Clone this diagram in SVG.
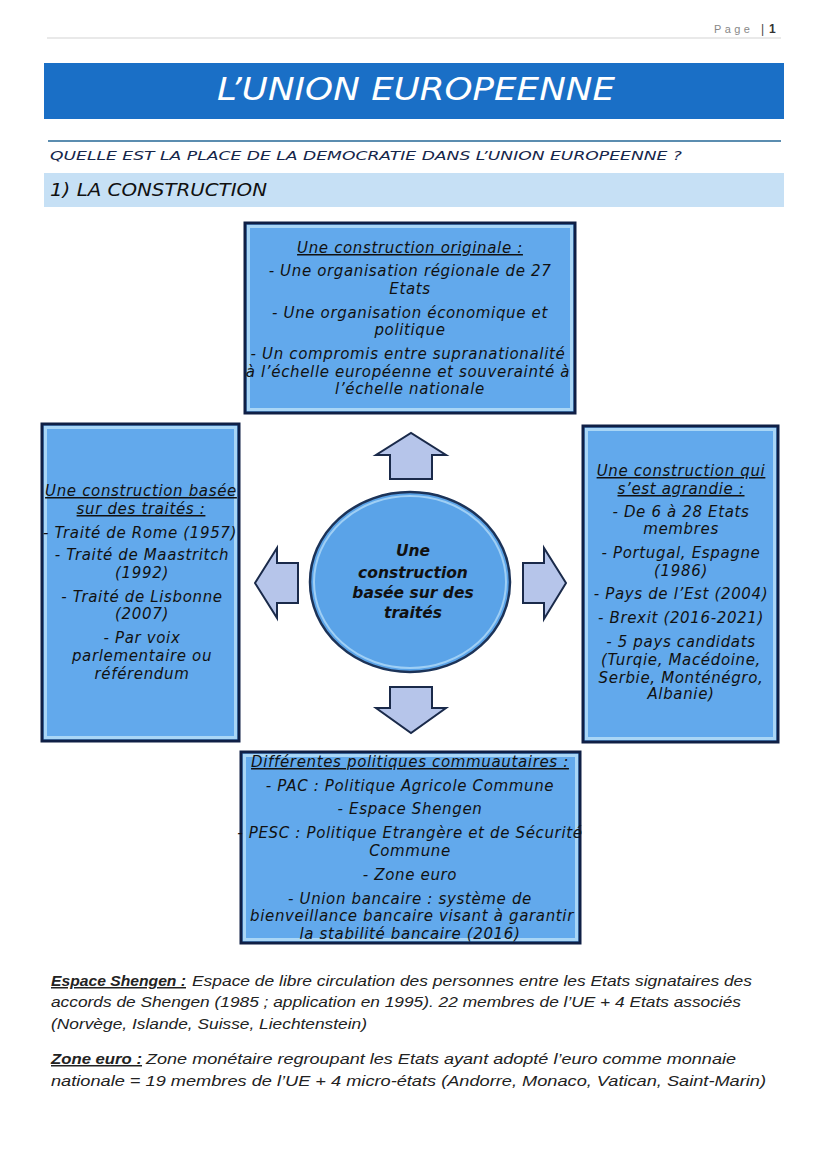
<svg xmlns="http://www.w3.org/2000/svg" width="828" height="1171" viewBox="0 0 828 1171">
<defs>
<style>
.bx{font-family:"DejaVu Sans",sans-serif;font-style:oblique;font-size:15px;letter-spacing:0.65px;fill:#111;text-anchor:middle}
.u{text-decoration:underline}
.ctr{font-family:"DejaVu Sans",sans-serif;font-style:oblique;font-weight:bold;font-size:15.5px;fill:#111;text-anchor:middle}
.par{font-family:"Liberation Sans",sans-serif;font-style:italic;font-size:15px;fill:#222}
.box{fill:#62a9ec;stroke:#0f1f45;stroke-width:3}
.hl{fill:none;stroke:#a9d6f6;stroke-width:3}
.arr{fill:#b6c5ea;stroke:#1a2a4a;stroke-width:2;stroke-linejoin:miter}
</style>
</defs>
<rect width="828" height="1171" fill="#fff"/>
<g id="header">
<text x="714" y="33" font-family="Liberation Sans,sans-serif" font-size="11" fill="#888" letter-spacing="3.4">Page</text>
<text x="761" y="33" font-family="Liberation Sans,sans-serif" font-size="12" fill="#444">|</text>
<text x="769" y="33" font-family="Liberation Sans,sans-serif" font-size="12" font-weight="bold" fill="#333">1</text>
<line x1="47" y1="38" x2="781" y2="38" stroke="#e2e2e2" stroke-width="1.5"/>
</g>
<g id="title">
<rect x="44" y="63" width="740" height="56" fill="#1a6fc6"/>
<text x="416" y="100" font-family="DejaVu Sans,sans-serif" font-style="oblique" font-size="32" fill="#fff" text-anchor="middle" textLength="398" lengthAdjust="spacingAndGlyphs">L’UNION EUROPEENNE</text>
</g>
<g id="question">
<line x1="48" y1="141" x2="781" y2="141" stroke="#5b8db0" stroke-width="2"/>
<text x="50" y="160" font-family="DejaVu Sans,sans-serif" font-style="oblique" font-size="13" fill="#16264a" textLength="632" lengthAdjust="spacingAndGlyphs">QUELLE EST LA PLACE DE LA DEMOCRATIE DANS L’UNION EUROPEENNE  ?</text>
</g>
<g id="section">
<rect x="44" y="173" width="740" height="34" fill="#c6e0f5"/>
<text x="50" y="196" font-family="DejaVu Sans,sans-serif" font-style="oblique" font-size="17" fill="#111" textLength="217" lengthAdjust="spacingAndGlyphs">1) LA CONSTRUCTION</text>
</g>
<g id="connectors">
<path class="arr" d="M390,479 L390,455 L376,455 L411,433 L446,455 L432,455 L432,479 Z"/>
<path class="arr" d="M390,687 L390,708 L376,708 L411,733 L446,708 L432,708 L432,687 Z"/>
<path class="arr" d="M298,563 L277,563 L277,548 L255,583 L277,618 L277,603 L298,603 Z"/>
<path class="arr" d="M523,563 L544,563 L544,548 L566,583 L544,619 L544,603 L523,603 Z"/>
</g>
<g id="node-top">
<rect class="box" x="245" y="223" width="330" height="190"/>
<rect class="hl" x="248.5" y="226.5" width="323" height="183"/>
<text class="bx u" x="410" y="253">Une construction originale :</text>
<text class="bx" x="410" y="276">- Une organisation régionale de 27</text>
<text class="bx" x="410" y="294">Etats</text>
<text class="bx" x="410" y="318">- Une organisation économique et</text>
<text class="bx" x="410" y="335">politique</text>
<text class="bx" x="408" y="359">- Un compromis entre supranationalité</text>
<text class="bx" x="408" y="377">à l’échelle européenne et souverainté à</text>
<text class="bx" x="410" y="394">l’échelle nationale</text>
</g>
<g id="node-left">
<rect class="box" x="42" y="424" width="197" height="317"/>
<rect class="hl" x="45.5" y="427.5" width="190" height="310"/>
<text class="bx u" x="141" y="496">Une construction basée</text>
<text class="bx u" x="141" y="514">sur des traités :</text>
<text class="bx" x="140" y="538">- Traité de Rome (1957)</text>
<text class="bx" x="142" y="560">- Traité de Maastritch</text>
<text class="bx" x="142" y="578">(1992)</text>
<text class="bx" x="142" y="602">- Traité de Lisbonne</text>
<text class="bx" x="142" y="619">(2007)</text>
<text class="bx" x="142" y="643">- Par voix</text>
<text class="bx" x="142" y="661">parlementaire ou</text>
<text class="bx" x="142" y="679">référendum</text>
</g>
<g id="node-right">
<rect class="box" x="583" y="426" width="195" height="316"/>
<rect class="hl" x="586.5" y="429.5" width="188" height="309"/>
<text class="bx u" x="681" y="476">Une construction qui</text>
<text class="bx u" x="681" y="494">s’est agrandie :</text>
<text class="bx" x="681" y="517">- De 6 à 28 Etats</text>
<text class="bx" x="681" y="534">membres</text>
<text class="bx" x="681" y="558">- Portugal, Espagne</text>
<text class="bx" x="681" y="576">(1986)</text>
<text class="bx" x="681" y="599">- Pays de l’Est (2004)</text>
<text class="bx" x="681" y="623">- Brexit (2016-2021)</text>
<text class="bx" x="681" y="647">- 5 pays candidats</text>
<text class="bx" x="681" y="665">(Turqie, Macédoine,</text>
<text class="bx" x="681" y="683">Serbie, Monténégro,</text>
<text class="bx" x="681" y="699">Albanie)</text>
</g>
<g id="node-center">
<ellipse cx="410" cy="582" rx="100" ry="90" fill="#5aa3e8" stroke="#1c3358" stroke-width="2.5"/>
<ellipse cx="410" cy="582" rx="96" ry="86" fill="none" stroke="#9fcff5" stroke-width="2"/>
<text class="ctr" x="413" y="556">Une</text>
<text class="ctr" x="413" y="578">construction</text>
<text class="ctr" x="413" y="598">basée sur des</text>
<text class="ctr" x="413" y="618">traités</text>
</g>
<g id="node-bottom">
<rect class="box" x="241" y="752" width="339" height="191"/>
<rect class="hl" x="244.5" y="755.5" width="332" height="184"/>
<text class="bx u" x="410" y="767">Différentes politiques commuautaires :</text>
<text class="bx" x="410" y="791">- PAC : Politique Agricole Commune</text>
<text class="bx" x="410" y="814">- Espace Shengen</text>
<text class="bx" x="410" y="838">- PESC : Politique Etrangère et de Sécurité</text>
<text class="bx" x="410" y="856">Commune</text>
<text class="bx" x="410" y="880">- Zone euro</text>
<text class="bx" x="410" y="904">- Union bancaire : système de</text>
<text class="bx" x="412" y="921">bienveillance bancaire visant à garantir</text>
<text class="bx" x="410" y="939">la stabilité bancaire (2016)</text>
</g>
<g id="notes">
<text class="par u" x="51" y="986" font-weight="bold" textLength="135" lengthAdjust="spacingAndGlyphs">Espace Shengen  :</text>
<text class="par" x="192" y="986" textLength="560" lengthAdjust="spacingAndGlyphs">Espace de libre circulation des personnes entre les Etats signataires des</text>
<text class="par" x="51" y="1007" textLength="690" lengthAdjust="spacingAndGlyphs">accords de Shengen (1985  ; application en 1995). 22 membres de l’UE + 4 Etats associés</text>
<text class="par" x="51" y="1029" textLength="316" lengthAdjust="spacingAndGlyphs">(Norvège, Islande, Suisse, Liechtenstein)</text>
<text class="par u" x="51" y="1064" font-weight="bold" textLength="91" lengthAdjust="spacingAndGlyphs">Zone euro  :</text>
<text class="par" x="146" y="1064" textLength="590" lengthAdjust="spacingAndGlyphs">Zone monétaire regroupant les Etats ayant adopté l’euro comme monnaie</text>
<text class="par" x="51" y="1086" textLength="715" lengthAdjust="spacingAndGlyphs">nationale  = 19 membres de l’UE + 4 micro-états (Andorre, Monaco, Vatican, Saint-Marin)</text>
</g>
</svg>
